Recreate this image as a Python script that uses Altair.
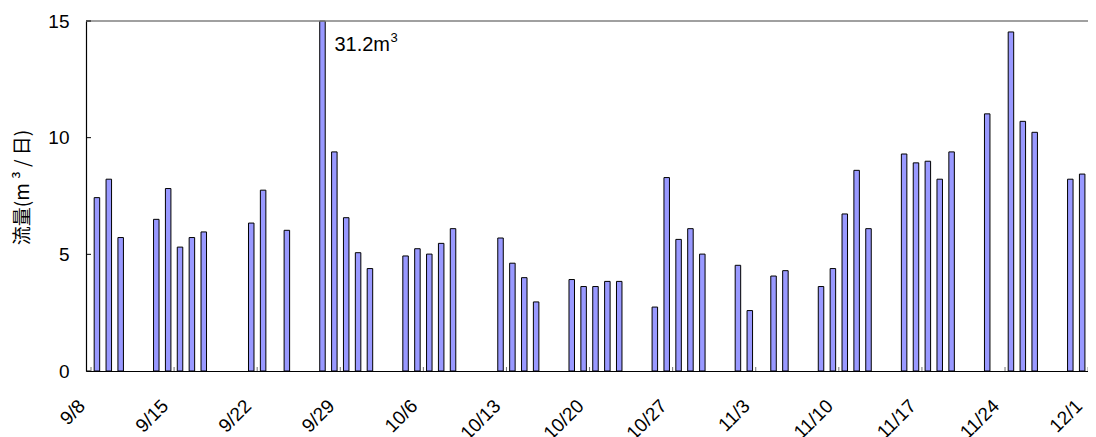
import altair as alt
import pandas as pd

# ---- data ----
dates = ["9/8", "9/9", "9/10", "9/13", "9/14", "9/15", "9/16", "9/17", "9/21", "9/22",
         "9/24", "9/27", "9/28", "9/29", "9/30", "10/1", "10/4", "10/5", "10/6", "10/7",
         "10/8", "10/12", "10/13", "10/14", "10/15", "10/18", "10/19", "10/20", "10/21", "10/22",
         "10/25", "10/26", "10/27", "10/28", "10/29", "11/1", "11/2", "11/4", "11/5", "11/8",
         "11/9", "11/10", "11/11", "11/12", "11/15", "11/16", "11/17", "11/18", "11/19", "11/22",
         "11/24", "11/25", "11/26", "11/29", "11/30"]
flow = [7.43, 8.22, 5.72, 6.50, 7.82, 5.31, 5.72, 5.96, 6.34, 7.75,
        6.03, 31.2, 9.39, 6.57, 5.07, 4.39, 4.93, 5.24, 5.01, 5.47,
        6.10, 5.70, 4.62, 4.00, 2.96, 3.92, 3.62, 3.62, 3.84, 3.84,
        2.74, 8.29, 5.64, 6.10, 5.01, 4.53, 2.59, 4.07, 4.30, 3.62,
        4.39, 6.73, 8.60, 6.10, 9.30, 8.92, 8.99, 8.22, 9.39, 11.02,
        14.53, 10.70, 10.23, 8.22, 8.44]
tick_labels = ["9/8", "9/15", "9/22", "9/29", "10/6", "10/13", "10/20",
               "10/27", "11/3", "11/10", "11/17", "11/24", "12/1"]
y_ticks = [0, 5, 10, 15]
note_main = "31.2m"
note_sup = "3"
note_date = "9/28"
note_y = 13.7

start = pd.Timestamp(year=2001, month=9, day=8)


def day_index(s):
    m, d = s.split("/")
    return (pd.Timestamp(year=2001, month=int(m), day=int(d)) - start).days


df = pd.DataFrame({"date": dates, "flow": flow})
df["day"] = [day_index(s) for s in dates]
df["pos"] = df["day"] + 0.5

week_days = [day_index(t) for t in tick_labels]
week_df = pd.DataFrame({"pos": week_days, "flow": [0] * len(tick_labels), "label": tick_labels})
# label anchor sits a little left of its week tick
week_df["lpos"] = week_df["pos"] - 0.75
ytick_df = pd.DataFrame({"flow": y_ticks})
note_df = pd.DataFrame({"pos": [day_index(note_date)], "flow": [note_y]})
top_df = pd.DataFrame({"flow": [15]})

W, H = 1002, 350
PX_PER_DAY = 11.99
xs = alt.Scale(domain=[0, W / PX_PER_DAY], nice=False, zero=False)
ys = alt.Scale(domain=[0, 15], nice=False, clamp=True)

xaxis = alt.Axis(values=week_days, ticks=False, labels=False,
                 domainColor="black", domainWidth=1.2, grid=False, title=None)
yaxis = alt.Axis(values=y_ticks, ticks=False, labelPadding=17, labelFontSize=19,
                 labelFont="Liberation Sans", labelColor="black", domainColor="black",
                 domainWidth=1.2, grid=False, title="流量(m ³ / 日)",
                 titleFont="Noto Sans CJK JP", titleFontSize=19, titleFontWeight="normal",
                 titleColor="black", titleX=-64, titleY=166, titleAngle=270,
                 titleAlign="center", titleBaseline="middle")

X = alt.X("pos:Q", scale=xs, axis=xaxis)
Y = alt.Y("flow:Q", scale=ys, axis=yaxis)

bars = alt.Chart(df).mark_bar(size=5.5, fill="#9999FF", stroke="black", strokeWidth=1).encode(x=X, y=Y)

top_line = alt.Chart(top_df).mark_rule(color="#808080", strokeWidth=1.5).encode(y=Y)

y_inner = alt.Chart(ytick_df).mark_rule(color="black", strokeWidth=1).encode(
    y=Y, x=alt.value(0), x2=alt.value(5)
)

x_inner = alt.Chart(week_df).mark_rule(color="#707070", strokeWidth=1).encode(
    x=X, y=alt.value(H - 4), y2=alt.value(H)
)

x_labels = alt.Chart(week_df).mark_text(angle=315, align="right", baseline="middle",
                                        font="Liberation Sans", fontSize=19, color="black").encode(
    x=alt.X("lpos:Q", scale=xs, axis=xaxis), y=alt.value(H + 32), text="label:N"
)

note1 = alt.Chart(note_df).mark_text(text=note_main, align="left", baseline="alphabetic",
                                     dx=6, font="Liberation Sans", fontSize=20, color="black").encode(x=X, y=Y)
note2 = alt.Chart(note_df).mark_text(text=note_sup, align="left", baseline="alphabetic",
                                     dx=62, dy=-9, font="Liberation Sans", fontSize=13, color="black").encode(x=X, y=Y)

chart = alt.layer(bars, top_line, y_inner, x_inner, x_labels, note1, note2).properties(
    width=W, height=H,
    autosize=alt.AutoSizeParams(type="none"),
    padding={"left": 78, "top": 13, "right": 0, "bottom": 66},
    background="white",
).configure_view(stroke=None)

chart.save("out.html", embed_options={"renderer": "svg", "actions": False})
